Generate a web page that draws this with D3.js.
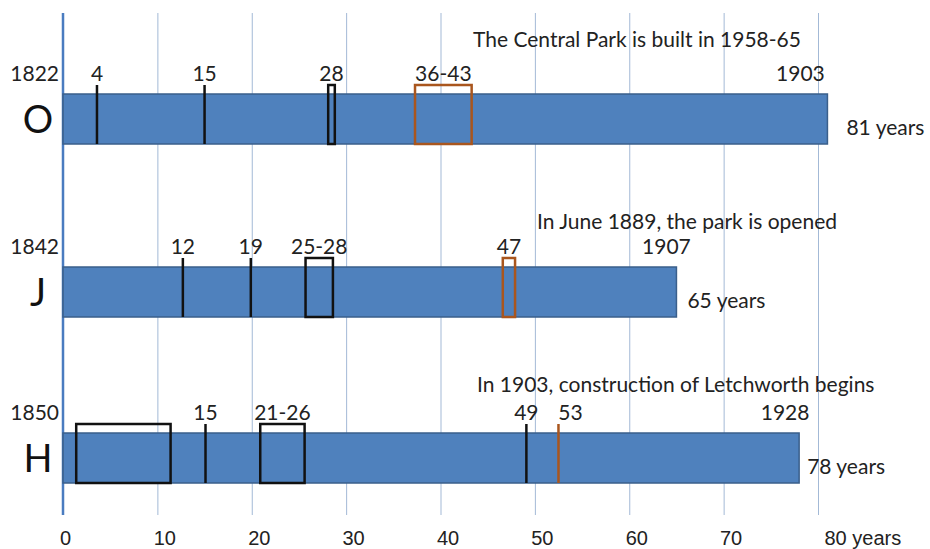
<!DOCTYPE html>
<html>
<head>
<meta charset="utf-8">
<script src="https://cdn.jsdelivr.net/npm/d3@7"></script>
<style>
  html, body { margin: 0; padding: 0; background: #fff; }
  svg { display: block; font-family: Lato, "Open Sans", sans-serif; }
  .grid line { stroke: #a3b9d6; stroke-width: 1; }
  .grid .domain { display: none; }
  .grid text { font-size: 20px; fill: #222; }
</style>
</head>
<body>
<svg width="930" height="549"></svg>
<script>
// ** DATA ** //
const people = ["O", "J", "H"];
const birthYears = [1822, 1842, 1850];
const endYears = [1903, 1907, 1928];
const lifespans = [81, 65, 78];
const notes = [
  "The Central Park is built in 1958-65",
  "In June 1889, the park is opened",
  "In 1903, construction of Letchworth begins"
];
// age events per person: label, from, to (years of age), kind
const eventsO = [
  { label: "4", from: 3.6, to: 3.6, kind: "life" },
  { label: "15", from: 15, to: 15, kind: "life" },
  { label: "28", from: 28.1, to: 28.8, kind: "life" },
  { label: "36-43", from: 37.3, to: 43.3, kind: "park" }
];
const eventsJ = [
  { label: "12", from: 12.7, to: 12.7, kind: "life" },
  { label: "19", from: 19.9, to: 19.9, kind: "life" },
  { label: "25-28", from: 25.7, to: 28.6, kind: "life" },
  { label: "47", from: 46.6, to: 47.9, kind: "park" }
];
const eventsH = [
  { label: "", from: 1.4, to: 11.4, kind: "life" },
  { label: "15", from: 15.1, to: 15.1, kind: "life" },
  { label: "21-26", from: 20.9, to: 25.6, kind: "life" },
  { label: "49", from: 49.1, to: 49.1, kind: "life" },
  { label: "53", from: 52.5, to: 52.5, kind: "park" }
];
const events = [eventsO, eventsJ, eventsH];
const ageTicks = [0, 10, 20, 30, 40, 50, 60, 70, 80];

// ** LAYOUT ** //
const svg = d3.select("svg");
const yTop = 13, yBottom = 515;
const barH = 50, markOver = 9;
const fs = 21;
const kindColor = { life: "#111", park: "#a9561e" };
const noteX = [473, 537, 477];
const noteDy = [-47, -38, -41];
const endYearDx = [-27, -10, -14];
const spanDx = [19, 11, 8];

const x = d3.scaleLinear().domain([0, 80]).range([63, 818]);
const y = d3.scaleOrdinal().domain(people).range([119, 292, 458]);

// gridlines + tick labels
const grid = svg.append("g")
  .attr("class", "grid")
  .attr("transform", `translate(0,${yBottom})`)
  .call(d3.axisBottom(x)
    .tickValues(ageTicks)
    .tickSize(-(yBottom - yTop))
    .tickPadding(16)
    .tickFormat(d => d === 80 ? "80 years" : d));
grid.selectAll(".tick text")
  .attr("dx", d => d === 80 ? 6 : (d === 0 ? 2 : 7))
  .attr("text-anchor", d => d === 80 ? "start" : "middle");
grid.select(".tick line").attr("stroke-opacity", 0);

// vertical axis line
svg.append("line")
  .attr("x1", x(0)).attr("x2", x(0))
  .attr("y1", yTop).attr("y2", yBottom)
  .attr("stroke", "#4a7cc0")
  .attr("stroke-width", 2.5);

const rows = svg.append("g").selectAll("g.row")
  .data(people)
  .join("g")
  .attr("class", "row");

// life bars
rows.append("rect")
  .attr("x", x(0))
  .attr("y", d => y(d) - barH / 2)
  .attr("width", (d, i) => x(lifespans[i]) - x(0))
  .attr("height", barH)
  .attr("fill", "#4f81bd")
  .attr("stroke", "#3a5f8b")
  .attr("stroke-width", 1.5);

// person letter
rows.append("text")
  .attr("x", 38)
  .attr("y", d => y(d) + 14)
  .attr("text-anchor", "middle")
  .attr("font-size", 38)
  .attr("fill", "#111")
  .text(d => d);

// birth year
rows.append("text")
  .attr("x", x(0) - 4)
  .attr("y", d => y(d) - barH / 2 - 13)
  .attr("text-anchor", "end")
  .attr("font-size", fs)
  .attr("fill", "#222")
  .text((d, i) => birthYears[i]);

// end year
rows.append("text")
  .attr("x", (d, i) => x(lifespans[i]) + endYearDx[i])
  .attr("y", d => y(d) - barH / 2 - 13)
  .attr("text-anchor", "middle")
  .attr("font-size", fs)
  .attr("fill", "#222")
  .text((d, i) => endYears[i]);

// lifespan
rows.append("text")
  .attr("x", (d, i) => x(lifespans[i]) + spanDx[i])
  .attr("y", d => y(d) + 16)
  .attr("font-size", fs)
  .attr("fill", "#222")
  .text((d, i) => `${lifespans[i]} years`);

// notes
rows.append("text")
  .attr("x", (d, i) => noteX[i])
  .attr("y", (d, i) => y(d) - barH / 2 + noteDy[i])
  .attr("font-size", fs)
  .attr("fill", "#222")
  .text((d, i) => notes[i]);

// event marks
rows.each(function (p, i) {
  const g = d3.select(this);
  const barTop = y(p) - barH / 2;
  const marks = g.selectAll("g.mark")
    .data(events[i])
    .join("g")
    .attr("class", "mark");

  marks.filter(e => e.to > e.from)
    .append("rect")
    .attr("x", e => x(e.from))
    .attr("y", barTop - markOver)
    .attr("width", e => x(e.to) - x(e.from))
    .attr("height", barH + markOver)
    .attr("fill", "none")
    .attr("stroke", e => kindColor[e.kind])
    .attr("stroke-width", 2.5);

  marks.filter(e => e.to === e.from)
    .append("line")
    .attr("x1", e => x(e.from)).attr("x2", e => x(e.from))
    .attr("y1", barTop - markOver)
    .attr("y2", barTop + barH)
    .attr("stroke", e => kindColor[e.kind])
    .attr("stroke-width", 2.5);

  marks.append("text")
    .attr("x", e => x((e.from + e.to) / 2))
    .attr("dx", e => e.kind === "park" && e.to === e.from ? 12 : 0)
    .attr("y", barTop - 13)
    .attr("text-anchor", "middle")
    .attr("font-size", fs)
    .attr("fill", "#222")
    .text(e => e.label);
});
</script>
</body>
</html>
